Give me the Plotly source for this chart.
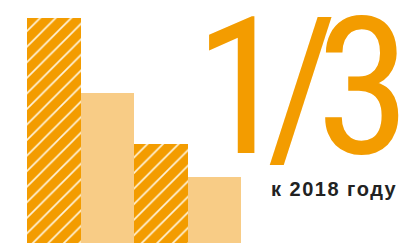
import plotly.graph_objects as go

categories = ["A", "B", "C", "D"]
values = [100, 66.7, 44, 29.3]
hatched = [True, False, True, False]
big_label = "1/3"
sub_label = "к 2018 году"

ORANGE = "#F39C00"
LIGHT = "#F8CC86"

W, H = 399, 243

hx = [c for c, h in zip(categories, hatched) if h]
hy = [v for v, h in zip(values, hatched) if h]
px_ = [c for c, h in zip(categories, hatched) if not h]
py_ = [v for v, h in zip(values, hatched) if not h]

fig = go.Figure()
fig.add_trace(go.Bar(
    x=hx, y=hy,
    marker=dict(
        color=ORANGE,
        line=dict(width=0),
        pattern=dict(shape="/", fgcolor="#FFF4DC", bgcolor=ORANGE, size=11,
                     solidity=0.15, fillmode="replace"),
    ),
    hoverinfo="skip",
))
fig.add_trace(go.Bar(
    x=px_, y=py_,
    marker=dict(color=LIGHT, line=dict(width=0)),
    hoverinfo="skip",
))

fig.add_annotation(
    text='<span style="font-stretch:condensed;letter-spacing:-22px">' + big_label + "</span>",
    xref="paper", yref="paper", x=1.005, y=1 - 87 / H,
    xanchor="right", yanchor="middle", showarrow=False,
    font=dict(family="Roboto Condensed, Roboto", size=192, color=ORANGE))
fig.add_annotation(
    text='<span style="letter-spacing:1.5px">' + sub_label + "</span>",
    xref="paper", yref="paper", x=398.5 / W, y=1 - 189 / H,
    xanchor="right", yanchor="middle", showarrow=False,
    font=dict(family="Liberation Sans", size=20, color="#222222", weight="bold"))

fig.update_layout(
    width=W, height=H, margin=dict(l=0, r=0, t=0, b=0),
    paper_bgcolor="white", plot_bgcolor="white",
    barmode="overlay", bargap=0, showlegend=False,
    xaxis=dict(domain=[27 / W, 241 / W], range=[-0.5, 3.5], visible=False,
               categoryorder="array", categoryarray=categories),
    yaxis=dict(range=[0, 108], visible=False),
)

fig.write_html("out.html", config={"displayModeBar": False},
               post_script="document.body.style.margin='0';document.body.style.overflow='hidden';")
